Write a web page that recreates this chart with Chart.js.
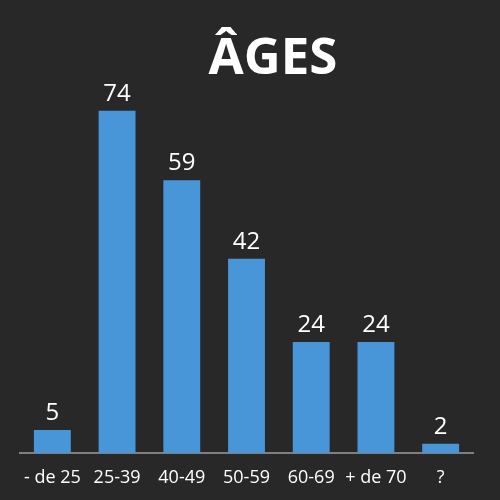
<!DOCTYPE html>
<html>
<head>
<meta charset="utf-8">
<script src="https://cdn.jsdelivr.net/npm/chart.js@4/dist/chart.umd.min.js"></script>
<style>
  html, body { margin: 0; padding: 0; background: #282828; }
  #box { width: 500px; height: 500px; }
</style>
</head>
<body>
<div id="box"><canvas id="graficoAges"></canvas></div>
<script>
const titre = "ÂGES";
const categories = ["- de 25", "25-39", "40-49", "50-59", "60-69", "+ de 70", "?"];
const valeurs = [5, 74, 59, 42, 24, 24, 2];
const yMax = 80;

const FONT = "'Open Sans', 'DejaVu Sans', sans-serif";

// écrit les valeurs au-dessus des barres et le titre
const etiquettes = {
  id: 'etiquettes',
  afterDatasetsDraw(chart) {
    const ctx = chart.ctx;
    const meta = chart.getDatasetMeta(0);
    ctx.save();
    ctx.fillStyle = '#ffffff';
    ctx.textAlign = 'center';
    ctx.textBaseline = 'alphabetic';
    ctx.font = '24px ' + FONT;
    meta.data.forEach((bar, i) => {
      ctx.fillText(String(valeurs[i]), bar.x, bar.y - 10);
    });
    ctx.font = 'bold 51px ' + FONT;
    ctx.fillText(titre, 273, 74);
    ctx.restore();
  }
};

const ctx = document.getElementById('graficoAges').getContext('2d');
new Chart(ctx, {
  type: 'bar',
  data: {
    labels: categories,
    datasets: [{
      data: valeurs,
      backgroundColor: '#4896d8',
      borderWidth: 0,
      categoryPercentage: 1,
      barPercentage: 0.57
    }]
  },
  options: {
    responsive: true,
    maintainAspectRatio: false,
    animation: false,
    layout: { padding: { left: 20, right: 27, top: 83, bottom: 0 } },
    plugins: {
      legend: { display: false },
      tooltip: { enabled: false }
    },
    scales: {
      x: {
        grid: { display: false, drawTicks: false },
        border: { display: true, color: '#7f7f7f', width: 2 },
        afterFit(scale) { scale.height = 47; },
        ticks: {
          color: '#ffffff',
          padding: 14,
          maxRotation: 0,
          autoSkip: false,
          font: { family: FONT, size: 18 }
        }
      },
      y: {
        display: false,
        min: 0,
        max: yMax
      }
    }
  },
  plugins: [etiquettes]
});
</script>
</body>
</html>
